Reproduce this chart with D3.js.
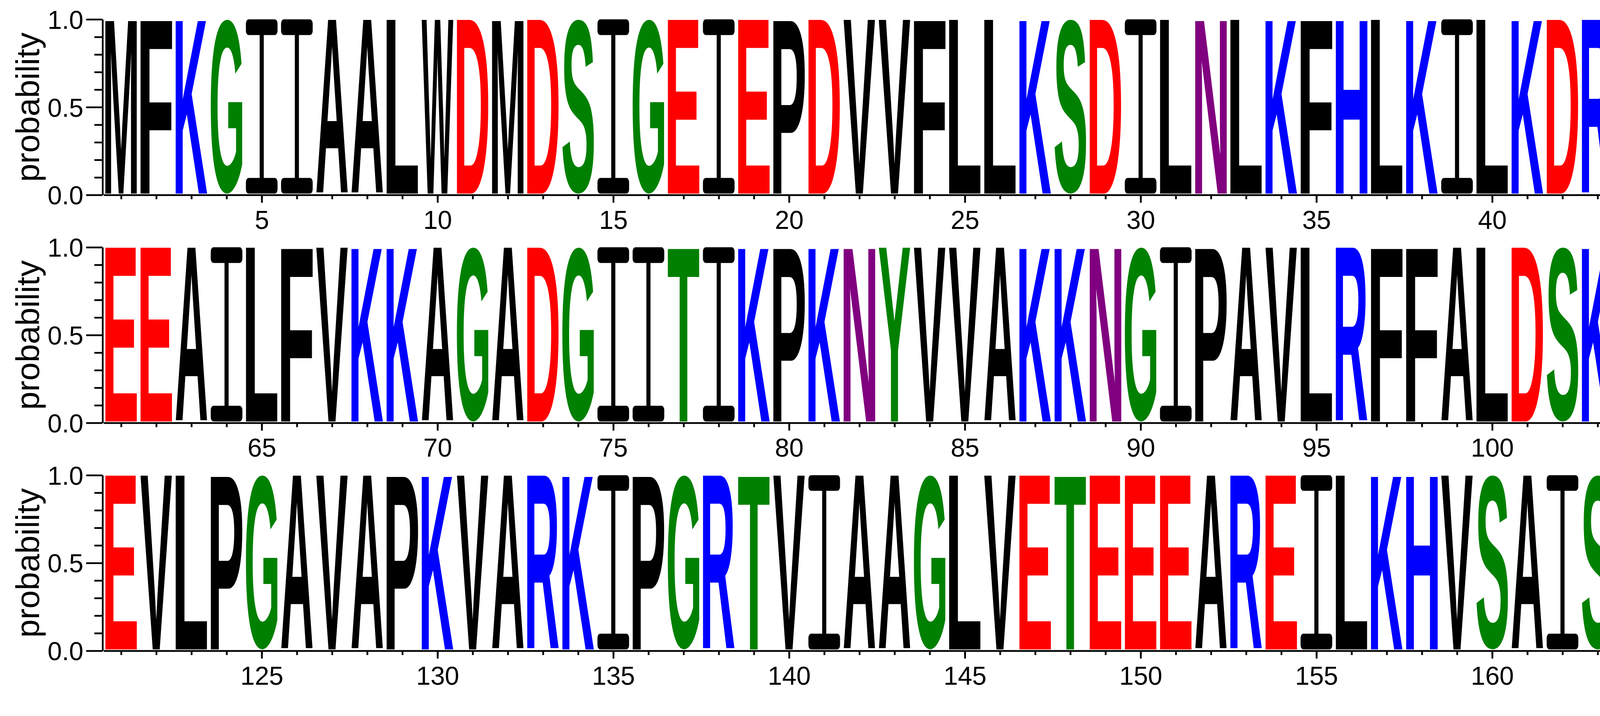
<!DOCTYPE html>
<html>
<head>
<meta charset="utf-8">
<script src="https://cdn.jsdelivr.net/npm/d3@7"></script>
<style>
	body { margin: 0; background: #fff; }
	svg text { font-family: "Liberation Sans", Arial, Helvetica, sans-serif; }
</style>
</head>
<body>
<svg id="logo"></svg>
<script>
// residues shown in each row of the logo
const row1Residues = ["M","F","K","G","I","I","A","A","L","W","D","M","D","S","I","G","E","I","E","P",
	"D","V","V","F","L","L","K","S","D","I","L","N","L","K","F","H","L","K","I","L",
	"K","D","R","G","K","T","V","F","V","D","M","D","F","V","N","G","L","G","E","G"];
const row2Residues = ["E","E","A","I","L","F","V","K","K","A","G","A","D","G","I","I","T","I","K","P",
	"K","N","Y","V","V","A","K","K","N","G","I","P","A","V","L","R","F","F","A","L",
	"D","S","K","A","V","E","R","G","I","E","Q","I","E","T","L","G","V","D","V","V"];
const row3Residues = ["E","V","L","P","G","A","V","A","P","K","V","A","R","K","I","P","G","R","T","V",
	"I","A","A","G","L","V","E","T","E","E","E","A","R","E","I","L","K","H","V","S",
	"A","I","S","T","S","S","R","I","L","W","K","M"];

// probability of the residue in each column (single sequence, so all full height)
const row1Probability = [1,1,1,1,1,1,1,1,1,1,1,1,1,1,1,1,1,1,1,1,1,1,1,1,1,1,1,1,1,1,
	1,1,1,1,1,1,1,1,1,1,1,1,1,1,1,1,1,1,1,1,1,1,1,1,1,1,1,1,1,1];
const row2Probability = [1,1,1,1,1,1,1,1,1,1,1,1,1,1,1,1,1,1,1,1,1,1,1,1,1,1,1,1,1,1,
	1,1,1,1,1,1,1,1,1,1,1,1,1,1,1,1,1,1,1,1,1,1,1,1,1,1,1,1,1,1];
const row3Probability = [1,1,1,1,1,1,1,1,1,1,1,1,1,1,1,1,1,1,1,1,1,1,1,1,1,1,
	1,1,1,1,1,1,1,1,1,1,1,1,1,1,1,1,1,1,1,1,1,1,1,1,1,1];

const rowStarts = [1, 61, 121];

const yMajorTicks = [0.0, 0.5, 1.0];
const yMinorTicks = [0.1, 0.2, 0.3, 0.4, 0.6, 0.7, 0.8, 0.9];
const xMajorTicks = [5,10,15,20,25,30,35,40,45,50,55,60,65,70,75,80,85,90,95,100,
	105,110,115,120,125,130,135,140,145,150,155,160,165,170];

// chemistry colour groups
const acidic = ["D","E"];
const basic = ["K","R","H"];
const polar = ["G","S","T","Y","C"];
const neutral = ["Q","N"];
const hydrophobic = ["A","V","L","I","P","W","F","M"];

const rows = [row1Residues, row2Residues, row3Residues];
const rowProbs = [row1Probability, row2Probability, row3Probability];

const width = 5717;
const height = 1833;
const margin = ({top: 49.6, left: 265});
const slot = 90;          // px per position
const rowStep = 583.4;    // distance between rows
const plotH = 449.5;      // 0..1 on the axis
const stackH = 446;       // letters stop just above the axis line
const axisW = 4.5;

function colorOf(ch) {
	if (acidic.includes(ch)) return "#ff0000";
	if (basic.includes(ch)) return "#0000ff";
	if (polar.includes(ch)) return "#008000";
	if (neutral.includes(ch)) return "#800080";
	return "#000000";
}

const svg = d3.select("#logo")
	.attr("width", width)
	.attr("height", height)
	.style("background", "#fff");

// ink bounds of the glyphs, so each letter can be stretched to its box
const glyphSize = 200;
const ctx = document.createElement("canvas").getContext("2d");
ctx.font = `bold ${glyphSize}px "Liberation Sans", Arial, sans-serif`;
function ink(ch) {
	const m = ctx.measureText(ch);
	return {left: -m.actualBoundingBoxLeft, right: m.actualBoundingBoxRight,
		ascent: m.actualBoundingBoxAscent, descent: m.actualBoundingBoxDescent};
}

function drawGlyph(g, ch, x0, y0, w, h, color) {
	if (ch === "I") {
		// serif I like the logo's font
		const bar = h * 0.09;
		const stem = w * 0.13;
		g.append("rect").attr("x", x0).attr("y", y0).attr("width", w).attr("height", bar)
			.attr("rx", 7).attr("ry", 11).attr("fill", color);
		g.append("rect").attr("x", x0).attr("y", y0 + h - bar).attr("width", w).attr("height", bar)
			.attr("rx", 7).attr("ry", 11).attr("fill", color);
		g.append("rect").attr("x", x0 + w / 2 - stem / 2).attr("y", y0 + bar / 2)
			.attr("width", stem).attr("height", h - bar).attr("fill", color);
		return;
	}
	const b = ink(ch);
	const sx = w / (b.right - b.left);
	const sy = h / (b.ascent + b.descent);
	g.append("text")
		.attr("font-size", glyphSize)
		.attr("font-weight", "bold")
		.attr("fill", color)
		.attr("transform", `translate(${x0},${y0}) scale(${sx},${sy}) translate(${-b.left},${b.ascent})`)
		.text(ch);
}

function styleAxis(g) {
	g.selectAll("line").attr("stroke", "#000").attr("stroke-width", axisW);
	g.selectAll("path").attr("stroke", "#000").attr("stroke-width", axisW);
	g.selectAll("text").attr("font-size", 66).attr("fill", "#000");
}

rows.forEach((residues, r) => {
	const probs = rowProbs[r];
	const first = rowStarts[r];
	const last = first + residues.length - 1;
	const top = margin.top + r * rowStep;

	const x = d3.scaleLinear()
		.domain([first - 0.5, last + 0.5])
		.range([margin.left, margin.left + slot * residues.length]);
	const y = d3.scaleLinear()
		.domain([0, 1])
		.range([top + plotH, top]);
	const yStack = d3.scaleLinear()
		.domain([0, 1])
		.range([top + stackH, top]);

	const row = svg.append("g");

	// letters
	residues.forEach((ch, i) => {
		const pos = first + i;
		const x0 = x(pos - 0.45);
		const w = x(pos + 0.45) - x0;
		const y0 = yStack(probs[i]);
		const h = yStack(0) - y0;
		drawGlyph(row, ch, x0, y0, w, h, colorOf(ch));
	});

	// x axis
	row.append("g")
		.attr("transform", `translate(0,${y(0)})`)
		.call(d3.axisBottom(x)
			.tickValues(d3.range(first, last + 1))
			.tickSize(11)
			.tickSizeOuter(0))
		.call(styleAxis)
		.call(g => g.selectAll("text").remove());
	row.append("g")
		.attr("transform", `translate(0,${y(0)})`)
		.call(d3.axisBottom(x)
			.tickValues(xMajorTicks.filter(t => t >= first && t <= last))
			.tickSize(20)
			.tickPadding(20)
			.tickSizeOuter(0))
		.call(styleAxis)
		.call(g => g.select(".domain").remove());

	// y axis
	row.append("g")
		.attr("transform", `translate(${margin.left - 2.5},0)`)
		.call(d3.axisLeft(y)
			.tickValues(yMinorTicks)
			.tickSize(21)
			.tickSizeOuter(0))
		.call(styleAxis)
		.call(g => g.selectAll("text").remove());
	row.append("g")
		.attr("transform", `translate(${margin.left - 2.5},0)`)
		.call(d3.axisLeft(y)
			.tickValues(yMajorTicks)
			.tickSize(42)
			.tickPadding(7)
			.tickSizeOuter(0)
			.tickFormat(d3.format(".1f")))
		.call(styleAxis)
		.call(g => g.select(".domain").remove())
		.call(g => g.selectAll("text").attr("dy", "0.36em"));

	row.append("text")
		.attr("transform", `translate(100,${y(0.5)}) rotate(-90)`)
		.attr("text-anchor", "middle")
		.attr("font-size", 84)
		.attr("fill", "#000")
		.text("probability");
});

// empty fine print in the corner
svg.append("text")
	.attr("x", 5664)
	.attr("y", 1815)
	.attr("text-anchor", "end")
	.attr("font-size", 48)
	.attr("fill", "#000")
	.text('""');
</script>
</body>
</html>
